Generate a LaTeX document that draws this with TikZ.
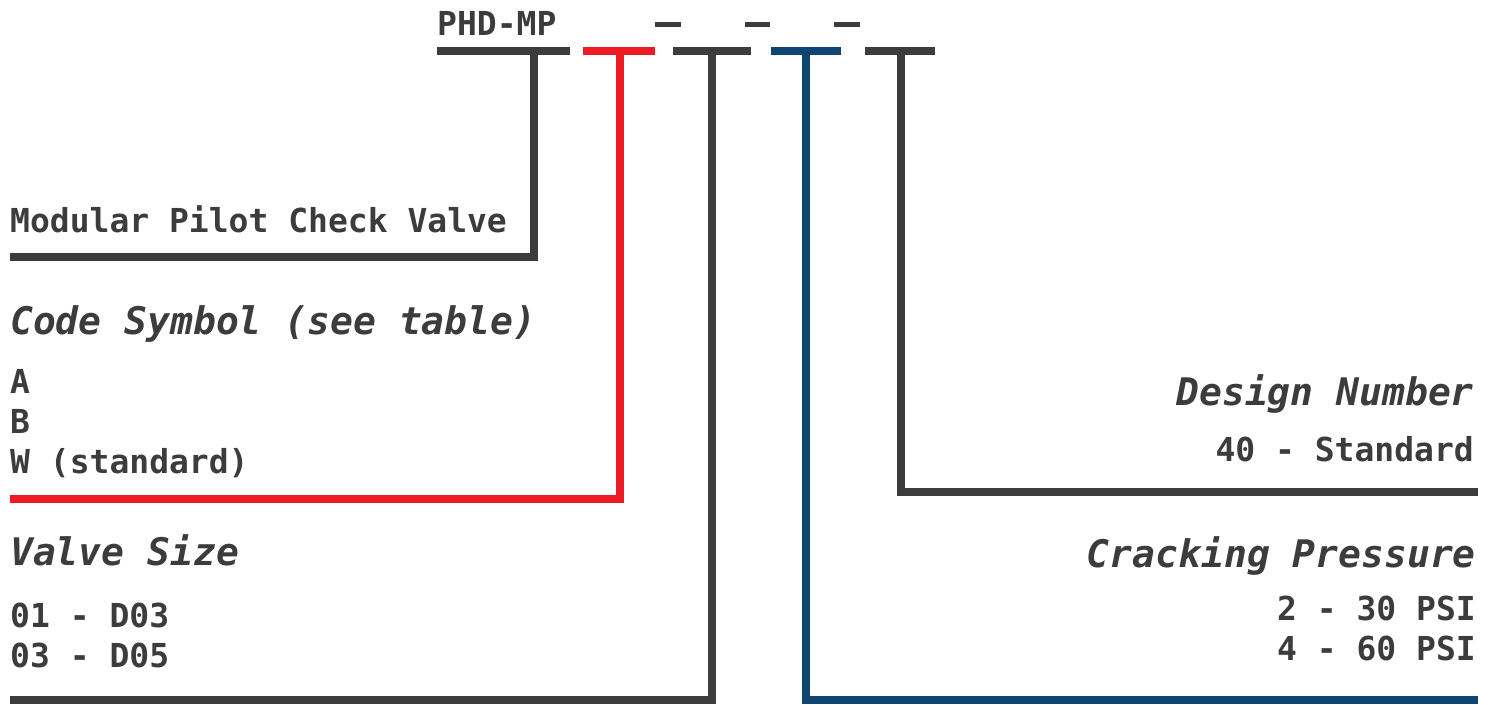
\documentclass[tikz,border=0pt]{standalone}
\usepackage{fontspec}
\newfontfamily\dvm{DejaVu Sans Mono}
\definecolor{ink}{HTML}{3C3C3C}
\definecolor{redc}{HTML}{ED1C24}
\definecolor{bluec}{HTML}{0E4573}
\tikzset{
  body/.style={inner sep=0pt, text=ink, font=\dvm\bfseries\fontsize{33}{40}\selectfont},
  head/.style={inner sep=0pt, text=ink, font=\dvm\bfseries\itshape\fontsize{38}{46}\selectfont},
  bar/.style={line width=8pt, line join=miter, line cap=butt},
  dashbar/.style={line width=5pt, draw=ink}
}
\begin{document}
\begin{tikzpicture}[x=1pt,y=-1pt]
\useasboundingbox (0,0) rectangle (1493,704);
% top code line
\node[body, anchor=base west] (code) at (437,35) {PHD-MP};
\coordinate (d1a) at (655,24); \coordinate (d1b) at (681,24);
\coordinate (d2a) at (745,24); \coordinate (d2b) at (770,24);
\coordinate (d3a) at (834,24); \coordinate (d3b) at (860,24);
\draw[dashbar] (d1a) -- (d1b);
\draw[dashbar] (d2a) -- (d2b);
\draw[dashbar] (d3a) -- (d3b);
% segments
\coordinate (s1l) at (437,50.5); \coordinate (s1r) at (570,50.5); \coordinate (s1m) at (534,50.5);
\coordinate (s2l) at (583,50.5); \coordinate (s2r) at (655,50.5); \coordinate (s2m) at (620,50.5);
\coordinate (s3l) at (673,50.5); \coordinate (s3r) at (751,50.5); \coordinate (s3m) at (712,50.5);
\coordinate (s4l) at (771,50.5); \coordinate (s4r) at (841,50.5); \coordinate (s4m) at (806,50.5);
\coordinate (s5l) at (865,50.5); \coordinate (s5r) at (935,50.5); \coordinate (s5m) at (901,50.5);
\coordinate (e1) at (10,257);
\coordinate (e2) at (10,499);
\coordinate (e3) at (10,700);
\coordinate (e4) at (1478,700);
\coordinate (e5) at (1478,492);
\draw[bar, draw=ink] (s1l) -- (s1r);
\draw[bar, draw=redc] (s2l) -- (s2r);
\draw[bar, draw=ink] (s3l) -- (s3r);
\draw[bar, draw=bluec] (s4l) -- (s4r);
\draw[bar, draw=ink] (s5l) -- (s5r);
\draw[bar, draw=ink] (s1m) |- (e1);
\draw[bar, draw=redc] (s2m) |- (e2);
\draw[bar, draw=ink] (s3m) |- (e3);
\draw[bar, draw=bluec] (s4m) |- (e4);
\draw[bar, draw=ink] (s5m) |- (e5);
% left texts
\node[body, anchor=base west] (mpcv) at (10,232) {Modular Pilot Check Valve};
\node[head, anchor=base west] (cs) at (10,334) {Code Symbol (see table)};
\node[body, anchor=base west] (ca) at (10,393) {A};
\node[body, anchor=base west] (cb) at (10,433) {B};
\node[body, anchor=base west] (cw) at (10,473) {W (standard)};
\node[head, anchor=base west] (vs) at (10,565) {Valve Size};
\node[body, anchor=base west] (v1) at (10,627) {01 - D03};
\node[body, anchor=base west] (v2) at (10,667) {03 - D05};
% right texts
\node[head, anchor=base east] (dn) at (1474,405) {Design Number};
\node[body, anchor=base east] (d40) at (1474,461) {40 - Standard};
\node[head, anchor=base east] (cp) at (1476,567) {Cracking Pressure};
\node[body, anchor=base east] (p2) at (1476,620) {2 - 30 PSI};
\node[body, anchor=base east] (p4) at (1476,660) {4 - 60 PSI};
\end{tikzpicture}
\end{document}
